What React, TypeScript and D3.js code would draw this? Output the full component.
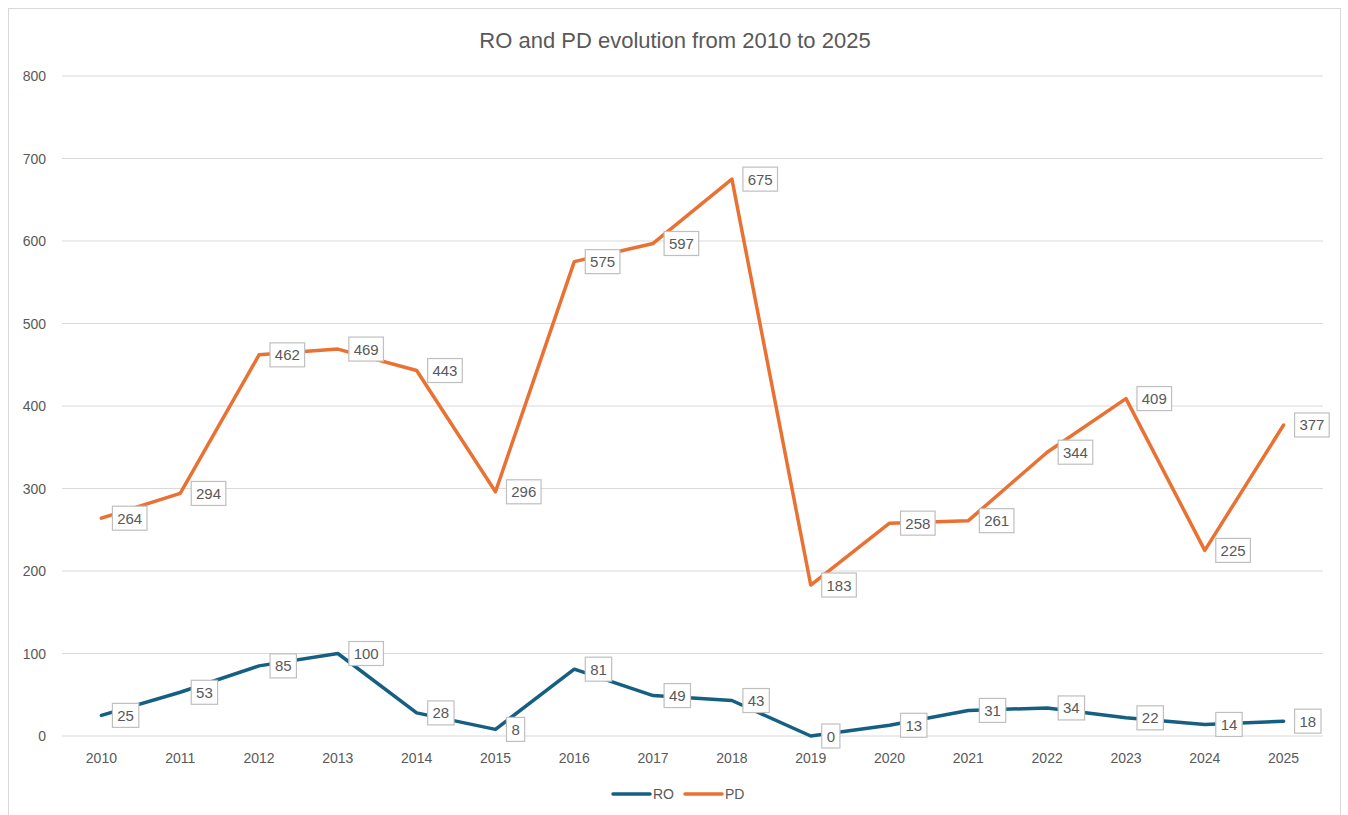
import React, { useEffect, useRef } from 'react';
import * as d3 from 'd3';

const years = ['2010', '2011', '2012', '2013', '2014', '2015', '2016', '2017', '2018', '2019', '2020', '2021', '2022', '2023', '2024', '2025'];
const ro = [25, 53, 85, 100, 28, 8, 81, 49, 43, 0, 13, 31, 34, 22, 14, 18];
const pd = [264, 294, 462, 469, 443, 296, 575, 597, 675, 183, 258, 261, 344, 409, 225, 377];
const yTicks = [0, 100, 200, 300, 400, 500, 600, 700, 800];

const FONT = "'Liberation Sans', Arial, sans-serif";
const TITLE_FONT = "'Liberation Sans Narrow', 'Liberation Sans', sans-serif";
const TEXT = '#595959';

export default function App() {
  const ref = useRef<SVGSVGElement>(null);

  useEffect(() => {
    const svg = d3.select(ref.current);
    svg.selectAll('*').remove();

    // chart frame
    svg.append('rect')
      .attr('x', 8.5).attr('y', 8.5)
      .attr('width', 1332).attr('height', 820)
      .attr('fill', '#fff').attr('stroke', '#d9d9d9');

    svg.append('text')
      .attr('x', 675).attr('y', 48)
      .attr('text-anchor', 'middle')
      .attr('font-family', TITLE_FONT).attr('font-size', 22)
      .attr('fill', TEXT)
      .text('RO and PD evolution from 2010 to 2025');

    const x = d3.scaleBand().domain(years).range([62, 1323]);
    const y = d3.scaleLinear().domain([0, 800]).range([736, 76]);
    const cx = (d: string) => (x(d) as number) + x.bandwidth() / 2;

    // gridlines
    svg.append('g').selectAll('line')
      .data(yTicks)
      .join('line')
      .attr('x1', 62).attr('x2', 1323)
      .attr('y1', d => y(d)).attr('y2', d => y(d))
      .attr('stroke', '#d9d9d9').attr('stroke-width', 1.2);

    svg.append('g').selectAll('text')
      .data(yTicks)
      .join('text')
      .attr('x', 46).attr('y', d => y(d) + 5)
      .attr('text-anchor', 'end')
      .attr('font-family', FONT).attr('font-size', 14)
      .attr('fill', TEXT)
      .text(d => d);

    svg.append('g').selectAll('text')
      .data(years)
      .join('text')
      .attr('x', d => cx(d)).attr('y', 763)
      .attr('text-anchor', 'middle')
      .attr('font-family', FONT).attr('font-size', 14)
      .attr('fill', TEXT)
      .text(d => d);

    const series = [
      { name: 'RO', values: ro, color: '#156082' },
      { name: 'PD', values: pd, color: '#E97132' },
    ];

    const line = d3.line<number>()
      .x((_, i) => cx(years[i]))
      .y(d => y(d));

    series.forEach(s => {
      svg.append('path')
        .datum(s.values)
        .attr('d', line)
        .attr('fill', 'none')
        .attr('stroke', s.color)
        .attr('stroke-width', 3.5)
        .attr('stroke-linejoin', 'round')
        .attr('stroke-linecap', 'round');
    });

    // data labels
    series.forEach(s => {
      const g = svg.append('g');
      s.values.forEach((v, i) => {
        const lx = cx(years[i]) + 11;
        const ly = y(v);
        const txt = String(v);
        const w = txt.length * 8.2 + 10;
        g.append('rect')
          .attr('x', lx).attr('y', ly - 12)
          .attr('width', w).attr('height', 24)
          .attr('fill', '#fff').attr('stroke', '#bfbfbf').attr('stroke-width', 1.2);
        g.append('text')
          .attr('x', lx + w / 2).attr('y', ly + 5.5)
          .attr('text-anchor', 'middle')
          .attr('font-family', FONT).attr('font-size', 15)
          .attr('fill', TEXT)
          .text(txt);
      });
    });

    // legend
    const legend = [
      { name: 'RO', color: '#156082', x: 613 },
      { name: 'PD', color: '#E97132', x: 685 },
    ];
    legend.forEach(l => {
      svg.append('line')
        .attr('x1', l.x).attr('x2', l.x + 37)
        .attr('y1', 794).attr('y2', 794)
        .attr('stroke', l.color).attr('stroke-width', 3.5)
        .attr('stroke-linecap', 'round');
      svg.append('text')
        .attr('x', l.x + 40).attr('y', 799)
        .attr('font-family', FONT).attr('font-size', 14)
        .attr('fill', TEXT)
        .text(l.name);
    });
  }, []);

  return (
    <svg
      ref={ref}
      width={1348}
      height={815}
      style={{ position: 'absolute', left: 0, top: 0, background: '#fff' }}
    />
  );
}
